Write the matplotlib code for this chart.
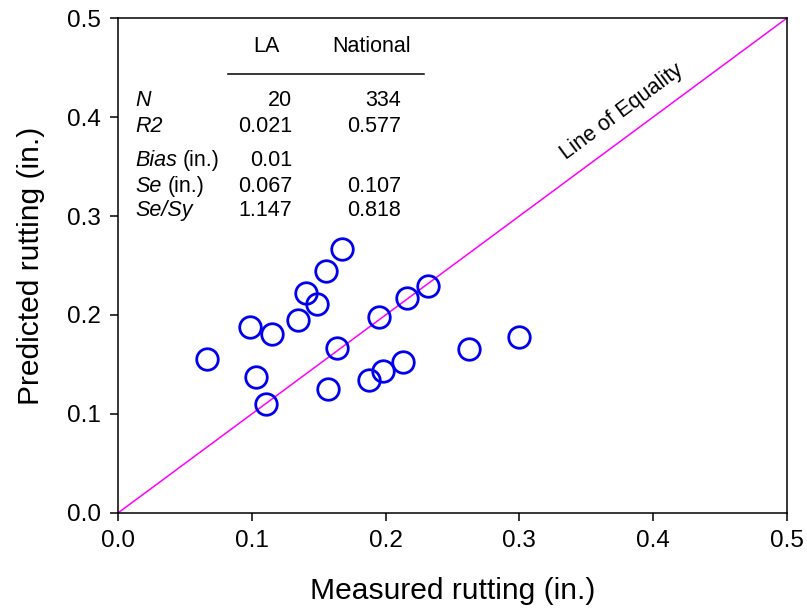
import matplotlib
matplotlib.use("Agg")
import matplotlib.pyplot as plt
import numpy as np

plt.rcParams['font.family'] = ['Liberation Sans', 'DejaVu Sans']

# rutting medido x previsto (in.) - secoes LA
medido = [0.0667, 0.0987, 0.1153, 0.1031, 0.1106, 0.1345, 0.1405, 0.1490, 0.1552, 0.1674,
          0.1635, 0.1572, 0.1874, 0.1981, 0.2132, 0.1951, 0.2158, 0.2317, 0.2621, 0.2999]
previsto = [0.1553, 0.1882, 0.1808, 0.1374, 0.1104, 0.1950, 0.2219, 0.2111, 0.2447, 0.2667,
            0.1664, 0.1253, 0.1340, 0.1431, 0.1522, 0.1977, 0.2169, 0.2290, 0.1660, 0.1781]

# tabela de estatisticas
colunas = ['LA', 'National']
linhas = ['N', 'R2', 'Bias (in.)', 'Se (in.)', 'Se/Sy']
valores_la = ['20', '0.021', '0.01', '0.067', '1.147']
valores_nat = ['334', '0.577', '', '0.107', '0.818']

fig = plt.figure(figsize=(8.07, 6.15), dpi=100)
ax = fig.add_axes([0.1462, 0.1659, 0.829, 0.8048])

ax.plot([0, 0.5], [0, 0.5], color='#ff00ff', lw=1.1, zorder=2)
ax.plot(medido, previsto, 'o', ms=15.5, mfc='none', mec='#0000ee', mew=2.0, zorder=3)

ax.set_xlim(0, 0.5)
ax.set_ylim(0, 0.5)
ax.set_xticks(np.arange(0, 0.51, 0.1))
ax.set_yticks(np.arange(0, 0.51, 0.1))
ax.xaxis.set_major_formatter(matplotlib.ticker.FormatStrFormatter('%.1f'))
ax.yaxis.set_major_formatter(matplotlib.ticker.FormatStrFormatter('%.1f'))
ax.tick_params(direction='out', length=6, width=1.1, labelsize=17.5, pad=6,
               top=False, right=False)
for s in ax.spines.values():
    s.set_linewidth(1.1)

ax.set_xlabel('Measured rutting (in.)', fontsize=21.6, labelpad=18)
ax.set_ylabel('Predicted rutting (in.)', fontsize=21.6, labelpad=16)

ax.text(0.3767, 0.405, 'Line of Equality', rotation=36.5, rotation_mode='anchor',
        ha='center', va='center', fontsize=15.5)

# tabela no canto superior esquerdo (coordenadas em pixels da figura)
def px(x, y):
    return x / 807, 1 - y / 615

fs = 15.5
fig.text(*px(266, 47), colunas[0], ha='center', va='center', fontsize=fs)
fig.text(*px(372, 47), colunas[1], ha='center', va='center', fontsize=fs)
fig.add_artist(plt.Line2D([228 / 807, 424 / 807], [1 - 74 / 615, 1 - 74 / 615],
                          color='black', lw=1.1))
ys = [101, 127, 160, 186, 211]
for i, y in enumerate(ys):
    nome = linhas[i]
    if nome == 'Bias (in.)':
        fig.text(*px(135, y), 'Bias', style='italic', ha='left', va='center', fontsize=fs)
        fig.text(*px(183, y), '(in.)', ha='left', va='center', fontsize=fs)
    elif nome == 'Se (in.)':
        fig.text(*px(135, y), 'Se', style='italic', ha='left', va='center', fontsize=fs)
        fig.text(*px(168, y), '(in.)', ha='left', va='center', fontsize=fs)
    else:
        fig.text(*px(135, y), nome, style='italic', ha='left', va='center', fontsize=fs)
    fig.text(*px(292, y), valores_la[i], ha='right', va='center', fontsize=fs)
    fig.text(*px(401, y), valores_nat[i], ha='right', va='center', fontsize=fs)

fig.savefig('out.png', dpi=100)
